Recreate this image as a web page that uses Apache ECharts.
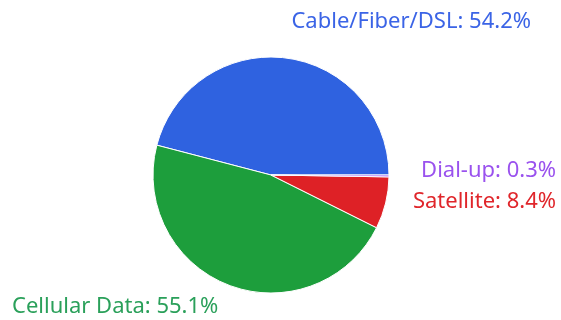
<!DOCTYPE html>
<html>
<head>
<meta charset="utf-8">
<script src="https://cdn.jsdelivr.net/npm/echarts@6/dist/echarts.min.js"></script>
<style>
  html, body { margin: 0; padding: 0; background: #ffffff; }
  #chart { width: 561px; height: 320px; }
</style>
</head>
<body>
<div id="chart"></div>
<script>
// Internet connection types (share of households, %)
const categories = ['Cable/Fiber/DSL', 'Cellular Data', 'Satellite', 'Dial-up'];
const values = [54.2, 55.1, 8.4, 0.3];
const sliceColors = ['#2f62e0', '#1d9e3c', '#de2126', '#9b4ff0'];
const labelColors = ['#3b64e6', '#2aa05a', '#e0262b', '#9a52ee'];

// Fixed label anchors per slice (x, y, horizontal alignment)
const labelAnchors = [
  { x: 531, y: 22, align: 'right' },
  { x: 12, y: 307, align: 'left' },
  { x: 556, y: 202, align: 'right' },
  { x: 556, y: 171, align: 'right' }
];

const chart = echarts.init(document.getElementById('chart'), null, { renderer: 'canvas' });

chart.setOption({
  backgroundColor: '#ffffff',
  animation: false,
  series: [{
    type: 'pie',
    center: [271, 175],
    radius: [0, 118],
    startAngle: 0,
    clockwise: false,
    avoidLabelOverlap: false,
    itemStyle: { borderColor: '#ffffff', borderWidth: 1 },
    label: {
      show: true,
      position: 'outside',
      fontFamily: 'Noto Sans',
      fontSize: 22,
      formatter: '{b}: {c}%'
    },
    labelLine: { show: false },
    labelLayout: function (params) {
      const a = labelAnchors[params.dataIndex];
      return { x: a.x, y: a.y, align: a.align, verticalAlign: 'middle' };
    },
    emphasis: { disabled: true },
    data: categories.map((name, i) => ({
      name: name,
      value: values[i],
      itemStyle: { color: sliceColors[i] },
      label: { color: labelColors[i] }
    }))
  }]
});
</script>
</body>
</html>
